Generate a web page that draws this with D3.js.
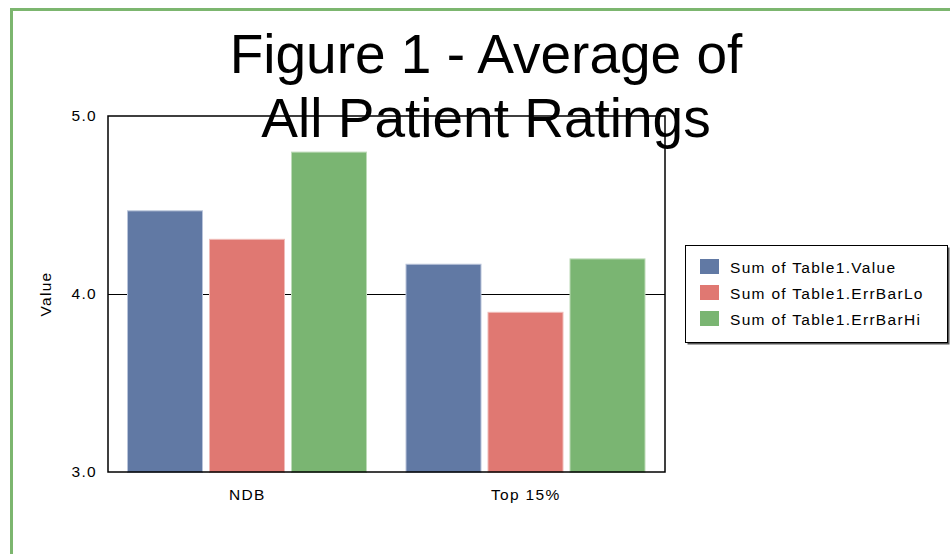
<html>
<head>
    <script src="https://d3js.org/d3.v7.min.js"></script>
    <style>
        body { margin: 0; background: #fff; }
        text { font-family: "Liberation Sans", Arial, sans-serif; }
        .small { font-size: 15.5px; letter-spacing: 1.3px; }
    </style>
</head>
<body>
    <div id="cont"></div>
    <script>
        // data
        var categories = ["NDB", "Top 15%"];
        var seriesNames = ["Sum of Table1.Value", "Sum of Table1.ErrBarLo", "Sum of Table1.ErrBarHi"];
        var valueSeries = [4.47, 4.17];
        var errLoSeries = [4.31, 3.90];
        var errHiSeries = [4.80, 4.20];
        var yTicks = [3.0, 4.0, 5.0];
        var titleLines = ["Figure 1 - Average of", "All Patient Ratings"];

        var colors = ["#6179a4", "#e07872", "#7ab572"];
        var edges = ["#b9c4da", "#f0bcb8", "#bddbb8"];

        var allSeries = [valueSeries, errLoSeries, errHiSeries];

        var svg = d3.select("#cont").append("svg")
            .attr("width", 950)
            .attr("height", 554);

        // green page frame
        svg.append("rect")
            .attr("x", 11.5).attr("y", 9.5)
            .attr("width", 1000).attr("height", 600)
            .attr("fill", "none")
            .attr("stroke", "#7cb66f")
            .attr("stroke-width", 3);

        var pLeft = 108, pRight = 665, pTop = 116, pBottom = 472;

        var y = d3.scaleLinear().domain([3, 5]).range([pBottom, pTop]);
        var x0 = d3.scaleBand().domain(categories).range([pLeft, pRight]).padding(0);
        var x1 = d3.scaleBand().domain(seriesNames)
            .range([19, x0.bandwidth() - 19.5])
            .paddingInner(0.073);

        // gridline at 4.0
        svg.append("line")
            .attr("x1", pLeft).attr("x2", pRight)
            .attr("y1", Math.round(y(4)) + 0.5).attr("y2", Math.round(y(4)) + 0.5)
            .attr("stroke", "#000").attr("stroke-width", 1.2);

        // bars
        var groups = svg.selectAll(".grp")
            .data(categories)
            .enter().append("g")
            .attr("class", "grp")
            .attr("transform", function(d) { return "translate(" + x0(d) + ",0)"; });

        groups.selectAll("rect")
            .data(function(d, i) {
                return seriesNames.map(function(s, k) { return {s: s, k: k, v: allSeries[k][i]}; });
            })
            .enter().append("rect")
            .attr("x", function(d) { return x1(d.s) + 0.5; })
            .attr("y", function(d) { return y(d.v) + 0.5; })
            .attr("width", function(d) { return x1.bandwidth() - 1; })
            .attr("height", function(d) { return pBottom - y(d.v); })
            .attr("fill", function(d) { return colors[d.k]; })
            .attr("stroke", function(d) { return edges[d.k]; })
            .attr("stroke-width", 1);

        // plot frame
        svg.append("rect")
            .attr("x", pLeft).attr("y", pTop)
            .attr("width", pRight - pLeft).attr("height", pBottom - pTop)
            .attr("fill", "none")
            .attr("stroke", "#000")
            .attr("stroke-width", 1.5);

        // y axis labels
        var yAxis = d3.axisLeft(y).tickValues(yTicks).tickSize(0).tickPadding(11)
            .tickFormat(d3.format(".1f"));
        var ya = svg.append("g").attr("transform", "translate(" + pLeft + ",0)").call(yAxis);
        ya.select(".domain").remove();
        ya.selectAll("text")
            .attr("class", "small")
            .attr("font-family", null).attr("font-size", null)
            .attr("dy", "0.32em")
            .attr("fill", "#000");

        // x axis labels
        var xAxis = d3.axisBottom(x0).tickSize(0).tickPadding(0);
        var xa = svg.append("g").attr("transform", "translate(0," + pBottom + ")").call(xAxis);
        xa.select(".domain").remove();
        xa.selectAll("text")
            .attr("class", "small")
            .attr("y", 28).attr("dy", null)
            .attr("fill", "#000");

        // y title
        svg.append("text")
            .attr("class", "small")
            .attr("transform", "translate(51," + ((pTop + pBottom) / 2) + ") rotate(-90)")
            .attr("text-anchor", "middle")
            .text("Value");

        // chart title
        svg.selectAll(".title")
            .data(titleLines)
            .enter().append("text")
            .attr("class", "title")
            .attr("x", 486)
            .attr("y", function(d, i) { return 73 + i * 64; })
            .attr("text-anchor", "middle")
            .attr("font-size", 55)
            .attr("fill", "#000")
            .text(function(d) { return d; });

        // legend
        var lg = svg.append("g").attr("transform", "translate(685,245)");
        lg.append("rect")
            .attr("x", 2.5).attr("y", 2.5).attr("width", 262).attr("height", 97)
            .attr("fill", "#555");
        lg.append("rect")
            .attr("x", 0.5).attr("y", 0.5).attr("width", 262).attr("height", 97)
            .attr("fill", "#fff").attr("stroke", "#000");
        var items = lg.selectAll(".item")
            .data(seriesNames)
            .enter().append("g")
            .attr("class", "item")
            .attr("transform", function(d, i) { return "translate(0," + (22 + i * 26) + ")"; });
        items.append("rect")
            .attr("x", 15).attr("y", -8).attr("width", 19).attr("height", 15)
            .attr("fill", function(d, i) { return colors[i]; });
        items.append("text")
            .attr("class", "small")
            .attr("x", 45).attr("y", 5.5)
            .text(function(d) { return d; });
    </script>
</body>
</html>
